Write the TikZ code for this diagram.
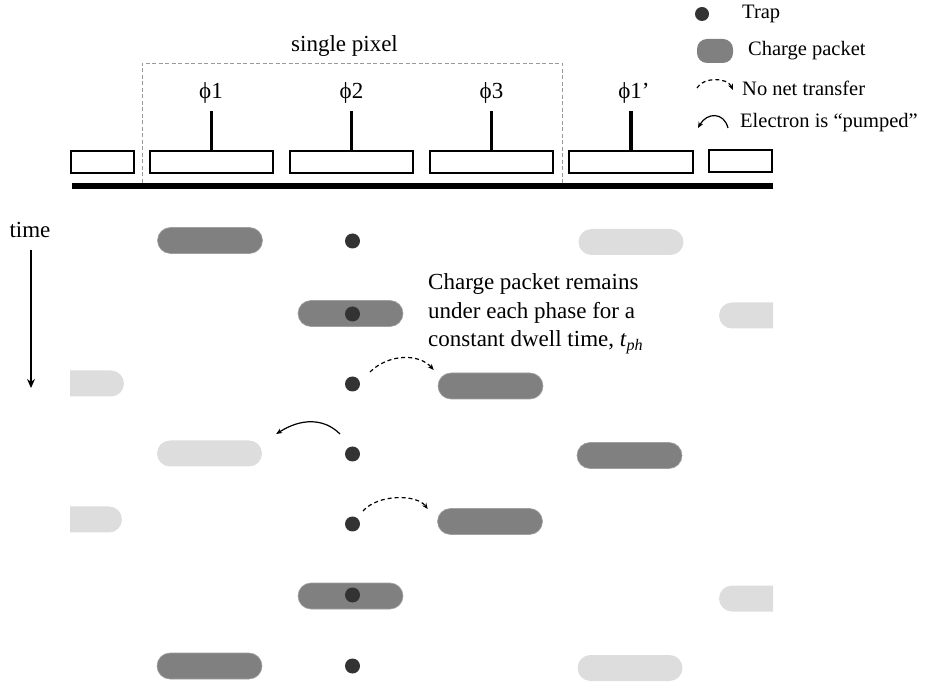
\documentclass[tikz,border=0pt]{standalone}
\usepackage{fontspec}
\setmainfont{Liberation Serif}
\usetikzlibrary{arrows.meta,calc}
\definecolor{dotc}{HTML}{333333}
\definecolor{pdark}{HTML}{808080}
\definecolor{plight}{HTML}{DDDDDD}
\definecolor{pixc}{HTML}{999999}
\begin{document}
\begin{tikzpicture}[x=1pt,y=-1pt,
 gatebox/.style={draw=black,line width=2pt,minimum height=22pt,inner sep=0pt},
 stem/.style={line width=3.5pt},
 lbl/.style={font=\fontsize{23}{28.5}\selectfont,inner sep=0pt},
 leg/.style={font=\fontsize{20.5}{24}\selectfont,inner sep=0pt,anchor=west},
 trap/.style={circle,fill=dotc,minimum size=15pt,inner sep=0pt},
 packet/.style={rectangle,rounded corners=13pt,minimum width=105pt,minimum height=26pt,inner sep=0pt},
 dpk/.style={packet,fill=pdark,draw=pdark!75!white,line width=0.6pt},
 lpk/.style={packet,fill=plight},
 nonet/.style={dash pattern=on 4pt off 3pt,line width=1.2pt,-{Stealth[length=6pt,width=5pt]}},
 pump/.style={line width=1.2pt,-{Stealth[length=6pt,width=5pt]}},
]
\useasboundingbox (0,0) rectangle (927,684);

% pixel frame
\draw[pixc,dash pattern=on 4pt off 2.5pt,line width=0.9pt] (142,183) -- (142,63) -- (562,63) -- (562,183);
\node[lbl] (pix) at (344.5,46) {single pixel};

% gates
\node[gatebox,minimum width=63pt] (g0) at (102.5,162) {};
\node[gatebox,minimum width=123pt] (g1) at (211.5,162.5) {};
\node[gatebox,minimum width=123pt] (g2) at (351.5,162.5) {};
\node[gatebox,minimum width=123pt] (g3) at (491.5,162.5) {};
\node[gatebox,minimum width=124pt] (g4) at (631,162.5) {};
\node[gatebox,minimum width=63pt] (g5) at (740.5,161) {};
\draw[stem] (g1.north) -- ++(0,-39);
\draw[stem] (g2.north) -- ++(0,-39);
\draw[stem] (g3.north) -- ++(0,-39);
\draw[stem] (g4.north) -- ++(0,-39);
\node[lbl] (l1) at (211,93) {ϕ1};
\node[lbl] (l2) at (351.5,93) {ϕ2};
\node[lbl] (l3) at (491.5,93) {ϕ3};
\node[lbl] (l4) at (634,93) {ϕ1’};

% substrate bar
\draw[line width=6pt] (72,186) -- (773,186);

% time axis
\node[lbl] (time) at (30,230) {time};
\coordinate (tend) at (31,388);
\draw[line width=1.2pt,-{Stealth[length=9pt,width=8pt]}] (time.south) ++(1,12) -- (tend);

% packets
\node[dpk] (a1) at (210,240.5) {};
\node[lpk] (b1) at (631,242) {};
\node[dpk] (a2) at (350.5,313.5) {};
\node[dpk] (a3) at (490.5,386) {};
\node[lpk] (b4) at (209.5,453.5) {};
\node[dpk] (a4) at (629.5,455.5) {};
\node[dpk] (a5) at (490,521.5) {};
\node[dpk] (a6) at (350.5,596) {};
\node[dpk] (a7) at (209.5,666) {};
\node[lpk] (b7) at (630,668) {};
\begin{scope}
\clip (70,0) rectangle (773,684);
\node[lpk] (b2) at (771.5,315.5) {};
\node[lpk] (b3) at (71.5,383.5) {};
\node[lpk] (b5) at (69.5,519.5) {};
\node[lpk] (b6) at (771.5,598.5) {};
\end{scope}

% traps
\node[trap] (t1) at (352.5,241) {};
\node[trap] (t2) at (352.5,314) {};
\node[trap] (t3) at (352.5,384) {};
\node[trap] (t4) at (352.5,454) {};
\node[trap] (t5) at (352.5,524) {};
\node[trap] (t6) at (352.5,595) {};
\node[trap] (t7) at (352.5,666) {};

% transfers
\draw[nonet] ($(t3)+(17.5,-12)$) .. controls +(18,-18) and +(-15,-17) .. ($(a3.west)+(-4,-16)$);
\draw[pump] ($(t4)+(-12.5,-20)$) .. controls +(-16,-16) and +(25,-16) .. ($(b4.east)+(14,-19.5)$);
\draw[nonet] ($(t5)+(10.5,-13)$) .. controls +(15,-17) and +(-11,-15) .. ($(a5.west)+(-9.5,-12.5)$);

% note
\node[lbl,anchor=west,align=left] (note) at (428,314) {Charge packet remains\\under each phase for a\\constant dwell time, \textit{t}\textsubscript{\textit{ph}}};

% legend
\node[trap,minimum size=14pt] (ltrap) at (702,14) {};
\node[leg] (ltrapt) at (742,14) {Trap};
\node[packet,fill=pdark,minimum width=36pt,minimum height=24pt,rounded corners=10pt] (lpack) at (715,51) {};
\node[leg] (lpackt) at (748,51) {Charge packet};
\coordinate (ln1) at (697,88);
\coordinate (ln2) at (733,90);
\draw[nonet] (ln1) .. controls (703,77) and (727,77) .. (ln2);
\node[leg] (lnt) at (742,88) {No net transfer};
\coordinate (lp1) at (728,128);
\coordinate (lp2) at (698,128);
\draw[pump] (lp1) .. controls (724,112) and (707,112) .. (lp2);
\node[leg] (lpt) at (740,123) {Electron is “pumped”};
\end{tikzpicture}
\end{document}
